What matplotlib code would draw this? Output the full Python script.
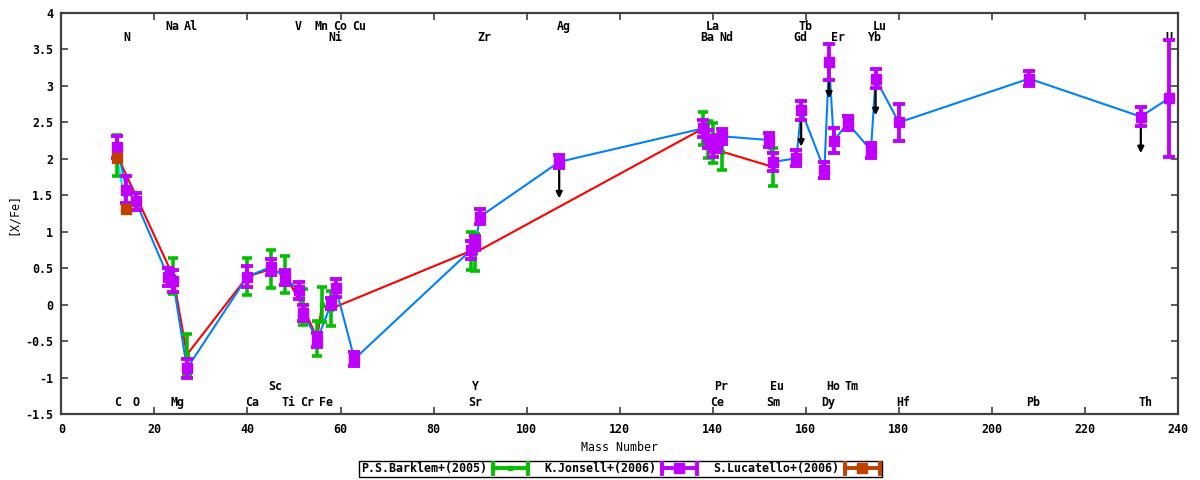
import numpy as np
import matplotlib
matplotlib.use("Agg")
import matplotlib.pyplot as plt
from matplotlib.lines import Line2D

plt.rcParams.update({"font.family": "DejaVu Sans Mono", "font.weight": "bold",
                     "font.size": 8.4, "axes.unicode_minus": False})

# mass numbers used for the x positions
MASS = {"C": 12, "N": 14, "O": 16, "Na": 23, "Mg": 24, "Al": 27, "Ca": 40, "Sc": 45,
        "Ti": 48, "V": 51, "Cr": 52, "Mn": 55, "Fe": 56, "Ni": 58, "Co": 59, "Cu": 63,
        "Sr": 88, "Y": 89, "Zr": 90, "Ag": 107, "Ba": 138, "La": 139, "Ce": 140,
        "Pr": 141, "Nd": 142, "Sm": 152, "Eu": 153, "Gd": 158, "Tb": 159, "Dy": 164,
        "Ho": 165, "Er": 166, "Tm": 169, "Yb": 174, "Lu": 175, "Hf": 180, "Pb": 208,
        "Th": 232, "U": 238}

# P.S.Barklem+(2005)
bark_el = ["C", "Mg", "Al", "Ca", "Sc", "Ti", "Cr", "Mn", "Fe", "Ni", "Sr", "Y",
           "Ba", "La", "Ce", "Nd", "Eu"]
bark_y = [2.05, 0.40, -0.68, 0.39, 0.49, 0.42, -0.03, -0.46, 0.00, -0.05, 0.74, 0.72,
          2.42, 2.27, 2.22, 2.10, 1.89]
bark_err = [0.28, 0.25, 0.28, 0.26, 0.26, 0.25, 0.25, 0.24, 0.24, 0.24, 0.26, 0.25,
            0.23, 0.25, 0.27, 0.25, 0.26]

# K.Jonsell+(2006)
jon_el = ["C", "N", "O", "Na", "Mg", "Al", "Ca", "Sc", "Ti", "V", "Cr", "Mn", "Ni", "Co",
          "Cu", "Sr", "Y", "Zr", "Ag", "Ba", "La", "Ce", "Pr", "Nd", "Sm", "Eu", "Gd",
          "Tb", "Dy", "Ho", "Er", "Tm", "Yb", "Lu", "Hf", "Pb", "Th", "U"]
jon_y = [2.16, 1.58, 1.42, 0.38, 0.33, -0.87, 0.39, 0.52, 0.38, 0.20, -0.11, -0.48, 0.02,
         0.23, -0.74, 0.75, 0.85, 1.21, 1.96, 2.42, 2.27, 2.15, 2.21, 2.31, 2.26, 1.96,
         2.01, 2.67, 1.85, 3.33, 2.25, 2.49, 2.12, 3.10, 2.50, 3.10, 2.58, 2.83]
jon_err = [0.15, 0.18, 0.12, 0.12, 0.15, 0.13, 0.15, 0.11, 0.10, 0.12, 0.11, 0.09, 0.07,
           0.12, 0.10, 0.12, 0.10, 0.10, 0.09, 0.12, 0.12, 0.12, 0.12, 0.10, 0.10, 0.12,
           0.11, 0.13, 0.11, 0.25, 0.17, 0.10, 0.10, 0.13, 0.25, 0.10, 0.13, 0.80]
jon_limits = ["Ag", "Tb", "Ho", "Lu", "Th"]  # upper limits (arrows)

# S.Lucatello+(2006)
luc_el = ["C", "N"]
luc_y = [2.01, 1.31]

# element labels: rows near top and bottom
top_row1 = ["Na", "Al", "V", "Mn", "Co", "Cu", "Ag", "La", "Tb", "Lu"]
top_row2 = ["N", "Ni", "Zr", "Ba", "Nd", "Gd", "Er", "Yb", "U"]
bot_row1 = ["Sc", "Y", "Pr", "Eu", "Ho", "Tm"]
bot_row2 = ["C", "O", "Mg", "Ca", "Ti", "Cr", "Fe", "Sr", "Ce", "Sm", "Dy", "Hf", "Pb", "Th"]

GREEN, PURPLE, BROWN = "#00c000", "#c000ff", "#c04000"
RED, BLUE, CYAN = "#ff0000", "#0080ff", "#00eeee"

fig = plt.figure(figsize=(12, 4.8), dpi=100)
ax = fig.add_axes([0.0511, 0.1365, 0.9306, 0.8365])

bx = [MASS[e] for e in bark_el]
jx = [MASS[e] for e in jon_el]
lx = [MASS[e] for e in luc_el]

ax.plot(bx, bark_y, color=RED, lw=1.5, zorder=2)
ax.plot(jx, jon_y, color=BLUE, lw=1.5, zorder=2)
ax.plot(lx, luc_y, color=CYAN, lw=1.5, zorder=2)

ax.errorbar(bx, bark_y, yerr=bark_err, fmt="s", ms=3.5, color=GREEN, ecolor=GREEN,
            elinewidth=2.6, capsize=3.8, capthick=2.6, zorder=4)
for e, y in zip(jon_el, jon_y):
    if e in jon_limits:
        ax.annotate("", xy=(MASS[e], y - 0.5), xytext=(MASS[e], y),
                    arrowprops=dict(arrowstyle="-|>", color="black", lw=1.6,
                                    mutation_scale=9, shrinkA=0, shrinkB=0), zorder=3)
ax.errorbar(jx, jon_y, yerr=jon_err, fmt="s", ms=6.5, color=PURPLE, ecolor=PURPLE,
            elinewidth=2.8, capsize=4, capthick=2.8, zorder=5)
ax.plot(lx, luc_y, "s", ms=7, color=BROWN, zorder=6)

def put_labels(names, y):
    for n in names:
        ax.text(MASS[n] + 0.9 * (len(n) - 1), y, n, ha="center", va="center", zorder=1)

put_labels(top_row1, 3.82)
put_labels(top_row2, 3.66)
put_labels(bot_row1, -1.12)
put_labels(bot_row2, -1.34)

ax.set_xlim(0, 240)
ax.set_ylim(-1.5, 4)
ax.set_xticks(np.arange(0, 241, 20))
ax.set_yticks(np.arange(-1.5, 4.01, 0.5))
ax.yaxis.set_major_formatter(matplotlib.ticker.FormatStrFormatter("%g"))
ax.tick_params(direction="in", length=5, width=1.2, top=True, right=True, pad=6,
               color="#404040")
for s in ax.spines.values():
    s.set_color("#404040")
    s.set_linewidth(1.6)
ax.set_xlabel("Mass Number", labelpad=4)
ax.set_ylabel("[X/Fe]", labelpad=4)


class ErrSample:
    def legend_artist(self, legend, orig_handle, fontsize, handlebox):
        x0, y0 = handlebox.xdescent, handlebox.ydescent
        w, h = handlebox.width, handlebox.height
        c = orig_handle.get_color()
        ym = y0 + h / 2
        arts = [Line2D([x0, x0 + w], [ym, ym], color=c, lw=2.8),
                Line2D([x0, x0], [ym - 4, ym + 4], color=c, lw=2.8),
                Line2D([x0 + w, x0 + w], [ym - 4, ym + 4], color=c, lw=2.8),
                Line2D([x0 + w / 2], [ym], marker="s", ms=orig_handle.get_markersize(),
                       color=c, lw=0)]
        for a in arts:
            a.set_transform(handlebox.get_transform())
            handlebox.add_artist(a)
        return arts[0]


handles = [Line2D([], [], color=GREEN, ms=3.5), Line2D([], [], color=PURPLE, ms=6.5),
           Line2D([], [], color=BROWN, ms=7)]
names = ["P.S.Barklem+(2005)", "K.Jonsell+(2006)", "S.Lucatello+(2006)"]
leg = fig.legend(handles, names, handler_map={Line2D: ErrSample()}, loc="center",
                 bbox_to_anchor=(0.517, 0.023), ncol=3, markerfirst=False, fancybox=False,
                 framealpha=1, edgecolor="black", handlelength=3.0, handletextpad=0.5,
                 columnspacing=1.4, borderpad=0.15, borderaxespad=0)
leg.get_frame().set_linewidth(1.0)

fig.savefig("out.png", dpi=100)
